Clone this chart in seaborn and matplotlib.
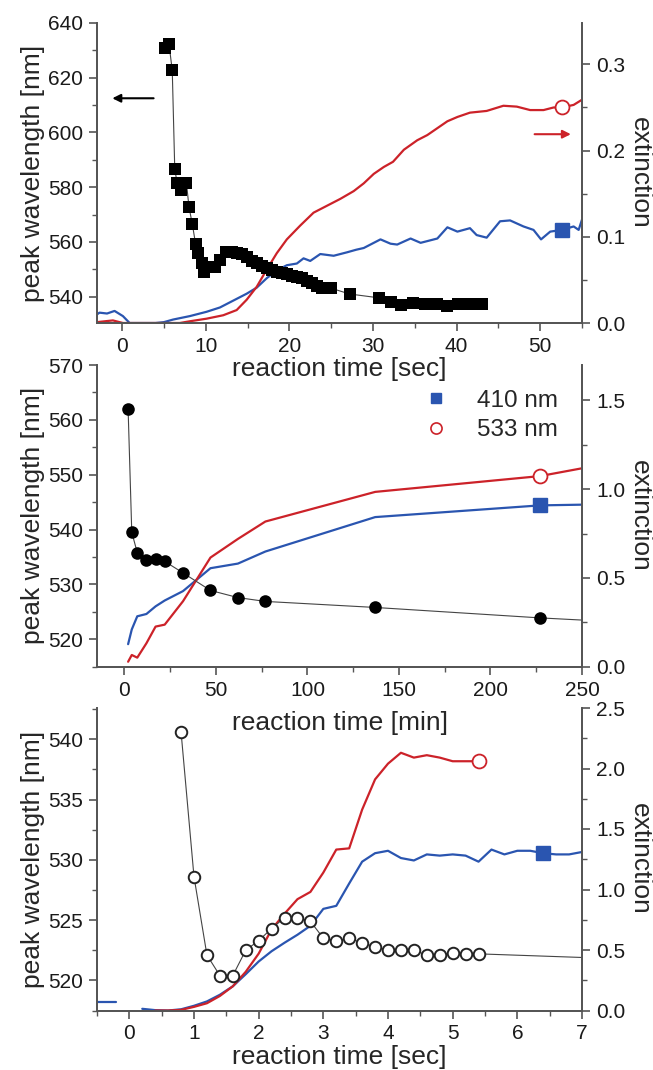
import numpy as np
import matplotlib
matplotlib.use("Agg")
import matplotlib.pyplot as plt
from matplotlib.lines import Line2D
import seaborn as sns

# ---- top panel: reaction time in sec ----
top_peak_t = [5.1, 5.6, 6.0, 6.3, 6.6, 7.0, 7.7, 8.0, 8.4, 8.8, 9.1, 9.5, 9.8, 10.5, 11.1,
              11.7, 12.4, 13.1, 13.7, 14.3, 14.9, 15.5, 16.1, 16.7, 17.3, 17.9, 18.5, 19.1,
              19.7, 20.3, 20.9, 21.5, 22.1, 22.7, 23.3, 23.9, 24.5, 25.0, 27.2, 30.7, 32.1,
              33.3, 34.8, 36.2, 37.6, 38.9, 40.2, 41.6, 43.0]
top_peak = [630.7, 632.5, 622.7, 586.5, 581.4, 579.0, 581.4, 572.8, 566.5, 559.1, 555.8,
            552.2, 549.1, 551.0, 551.0, 553.4, 556.4, 556.4, 556.0, 555.6, 554.6, 553.1,
            552.2, 551.2, 550.4, 549.7, 549.1, 548.8, 548.3, 547.7, 547.3, 546.7, 545.8,
            544.9, 544.0, 543.3, 543.1, 543.1, 541.0, 539.6, 538.0, 537.1, 537.8, 537.3,
            537.3, 536.7, 537.4, 537.3, 537.2]

top_blue_t = [-3.0, -2.7, -1.8, -0.9, 0.1, 0.9, 2.0, 3.0, 4.0, 5.0, 6.1, 8.1, 10.1, 11.7,
              13.3, 14.9, 16.1, 17.3, 18.5, 19.7, 20.9, 21.7, 22.5, 23.7, 25.3, 26.9, 28.0,
              28.9, 30.1, 30.9, 32.1, 32.9, 34.5, 35.7, 37.7, 38.9, 40.1, 41.6, 42.4, 43.6,
              45.2, 46.4, 48.0, 49.2, 50.1, 51.2, 52.6, 54.0, 54.6, 55.0]
top_blue = [0.010, 0.012, 0.011, 0.014, 0.008, 0.0, 0.0, 0.0, 0.0, 0.001, 0.004, 0.008,
            0.013, 0.018, 0.026, 0.034, 0.041, 0.052, 0.061, 0.067, 0.069, 0.075, 0.072,
            0.080, 0.078, 0.082, 0.085, 0.087, 0.093, 0.097, 0.092, 0.091, 0.098, 0.093,
            0.098, 0.111, 0.106, 0.110, 0.102, 0.099, 0.118, 0.119, 0.112, 0.108, 0.097,
            0.106, 0.108, 0.112, 0.108, 0.120]

top_red_t = [-3.0, -1.1, 0.1, 2.0, 4.0, 6.9, 8.1, 10.1, 12.1, 13.7, 14.9, 16.1, 17.3, 18.5,
             19.7, 21.3, 22.9, 24.5, 26.1, 27.7, 28.9, 30.1, 31.3, 32.4, 33.7, 35.3, 36.5,
             37.7, 38.9, 40.1, 41.6, 43.6, 45.6, 47.2, 48.8, 50.4, 51.6, 52.6, 54.0, 55.0]
top_red = [0.001, 0.003, 0.0, 0.0, 0.0, 0.0, 0.002, 0.005, 0.009, 0.015, 0.027, 0.042,
           0.062, 0.081, 0.097, 0.113, 0.128, 0.136, 0.144, 0.153, 0.162, 0.173, 0.181,
           0.187, 0.201, 0.212, 0.218, 0.226, 0.234, 0.239, 0.244, 0.246, 0.252, 0.251,
           0.247, 0.247, 0.250, 0.250, 0.253, 0.259]
top_mark_t = 52.6

# ---- middle panel: reaction time in min ----
mid_peak_t = [2, 4, 7, 12, 17, 22, 32, 47, 62, 77, 137, 227]
mid_peak = [561.9, 539.5, 535.8, 534.5, 534.7, 534.2, 532.1, 528.9, 527.6, 526.9, 525.8, 523.9]
mid_tail_t = [227, 250]
mid_tail = [523.9, 523.5]

mid_ext_t = [2, 4, 7, 12, 17, 22, 32, 47, 62, 77, 137, 227, 250]
mid_blue = [0.127, 0.21, 0.284, 0.297, 0.34, 0.373, 0.426, 0.555, 0.581, 0.649, 0.843, 0.909, 0.913]
mid_red = [0.028, 0.066, 0.051, 0.132, 0.226, 0.237, 0.369, 0.615, 0.720, 0.818, 0.985, 1.074, 1.118]
mid_mark_t = 227

# ---- bottom panel: reaction time in sec ----
bot_peak_t = [0.8, 1.0, 1.2, 1.4, 1.6, 1.8, 2.0, 2.2, 2.4, 2.6, 2.8, 3.0, 3.2, 3.4, 3.6,
              3.8, 4.0, 4.2, 4.4, 4.6, 4.8, 5.0, 5.2, 5.4]
bot_peak = [540.6, 528.6, 522.1, 520.4, 520.4, 522.5, 523.3, 524.3, 525.2, 525.2, 524.9,
            523.5, 523.3, 523.5, 523.1, 522.8, 522.5, 522.5, 522.5, 522.1, 522.1, 522.3,
            522.2, 522.2]
bot_tail_t = [5.4, 7.0]
bot_tail = [522.2, 521.9]

bot_pre_t = [-0.5, -0.2]
bot_pre_blue = [0.07, 0.07]
bot_blue_t = [0.2, 0.4, 0.6, 0.8, 1.0, 1.2, 1.4, 1.6, 1.8, 2.0, 2.2, 2.4, 2.6, 2.8, 3.0,
              3.2, 3.4, 3.6, 3.8, 4.0, 4.2, 4.4, 4.6, 4.8, 5.0, 5.2, 5.4, 5.6, 5.8, 6.0,
              6.2, 6.4, 6.6, 6.8, 7.0]
bot_blue = [0.014, 0.003, 0.0, 0.01, 0.039, 0.075, 0.13, 0.20, 0.30, 0.405, 0.49, 0.56,
            0.626, 0.70, 0.84, 0.865, 1.05, 1.23, 1.30, 1.32, 1.26, 1.24, 1.29, 1.28, 1.29,
            1.28, 1.23, 1.33, 1.29, 1.32, 1.32, 1.30, 1.29, 1.29, 1.31]
bot_red_t = [0.4, 0.6, 0.8, 1.0, 1.2, 1.4, 1.6, 1.8, 2.0, 2.2, 2.4, 2.6, 2.8, 3.0, 3.2,
             3.4, 3.6, 3.8, 4.0, 4.2, 4.4, 4.6, 4.8, 5.0, 5.2, 5.4]
bot_red = [0.0, 0.0, 0.005, 0.03, 0.06, 0.12, 0.20, 0.32, 0.47, 0.67, 0.80, 0.92, 0.98,
           1.14, 1.33, 1.34, 1.66, 1.91, 2.04, 2.13, 2.09, 2.11, 2.09, 2.06, 2.06, 2.06]
bot_red_mark_t = 5.4
bot_blue_mark_t = 6.4

BLUE = "#2a55b0"
RED = "#cc2229"
AX = "#555555"

sns.set_style("ticks")
plt.rcParams["font.family"] = ["Liberation Sans", "DejaVu Sans"]

fig = plt.figure(figsize=(6.53, 10.70), dpi=100)
L, W = 97 / 653, 485 / 653
ax1 = fig.add_axes([L, 1 - 323 / 1070, W, 300 / 1070])
ax2 = fig.add_axes([L, 1 - 666.7 / 1070, W, 301.7 / 1070])
ax3 = fig.add_axes([L, 1 - 1010.5 / 1070, W, 302.5 / 1070])


def style(ax, tw):
    for a in (ax, tw):
        a.spines["top"].set_visible(False)
        for s in ("left", "right", "bottom"):
            a.spines[s].set_color(AX)
            a.spines[s].set_linewidth(1.3)
        a.tick_params(which="major", direction="out", length=6, width=1.2, color=AX,
                      labelsize=15, labelcolor="#1a1a1a", pad=4)
        a.tick_params(which="minor", direction="out", length=3.5, width=1.0, color=AX)
    ax.set_ylabel("peak wavelength [nm]", fontsize=19, labelpad=2)
    tw.set_ylabel("extinction", fontsize=19, rotation=270, labelpad=19)
    ax.set_zorder(tw.get_zorder() + 1)
    ax.patch.set_visible(False)


def lines(tw, bt, b, rt, r):
    sns.lineplot(x=bt, y=b, ax=tw, color=BLUE, lw=1.6, sort=False, estimator=None)
    sns.lineplot(x=rt, y=r, ax=tw, color=RED, lw=1.6, sort=False, estimator=None)


def marks(tw, bt, b, rt, r):
    tw.plot([bt], [np.interp(bt, *b)], marker="s", ms=9.5, color=BLUE, ls="none")
    tw.plot([rt], [np.interp(rt, *r)], marker="o", ms=10, mfc="white", mec=RED,
            mew=1.3, ls="none")


# top
tw1 = ax1.twinx()
style(ax1, tw1)
lines(tw1, top_blue_t, top_blue, top_red_t, top_red)
marks(tw1, top_mark_t, (top_blue_t, top_blue), top_mark_t, (top_red_t, top_red))
sns.lineplot(x=top_peak_t, y=top_peak, ax=ax1, color="#444444", lw=0.8, sort=False,
             estimator=None)
sns.scatterplot(x=top_peak_t, y=top_peak, ax=ax1, marker="s", s=68, color="black",
                edgecolor="black", linewidth=0, zorder=3)
ax1.set_xlim(-3, 55)
ax1.set_ylim(530.4, 640)
tw1.set_ylim(0, 0.348)
ax1.set_xticks([0, 10, 20, 30, 40, 50])
ax1.set_xticks(np.arange(-0, 56, 5), minor=True)
ax1.set_yticks([540, 560, 580, 600, 620, 640])
ax1.set_yticks(np.arange(540, 641, 10), minor=True)
tw1.set_yticks([0.0, 0.1, 0.2, 0.3])
tw1.set_yticks(np.arange(0, 0.34, 0.05), minor=True)
tw1.set_yticklabels(["0.0", "0.1", "0.2", "0.3"])
ax1.set_xlabel("reaction time [sec]", fontsize=19, labelpad=1)
ax1.annotate("", xy=(-1.5, 612.5), xytext=(4.1, 612.5),
             arrowprops=dict(arrowstyle="-|>", color="black", lw=1.5, mutation_scale=12))
tw1.annotate("", xy=(54.0, 0.219), xytext=(49.0, 0.219),
             arrowprops=dict(arrowstyle="-|>", color=RED, lw=1.5, mutation_scale=12))

# middle
tw2 = ax2.twinx()
style(ax2, tw2)
lines(tw2, mid_ext_t, mid_blue, mid_ext_t, mid_red)
marks(tw2, mid_mark_t, (mid_ext_t, mid_blue), mid_mark_t, (mid_ext_t, mid_red))
sns.lineplot(x=mid_peak_t + mid_tail_t[1:], y=mid_peak + mid_tail[1:], ax=ax2,
             color="#444444", lw=0.8, sort=False, estimator=None)
sns.scatterplot(x=mid_peak_t, y=mid_peak, ax=ax2, marker="o", s=82, color="black",
                edgecolor="black", linewidth=0, zorder=3)
ax2.set_xlim(-15, 250)
ax2.set_ylim(515, 570)
tw2.set_ylim(0, 1.7)
ax2.set_xticks([0, 50, 100, 150, 200, 250])
ax2.set_xticks(np.arange(0, 251, 25), minor=True)
ax2.set_yticks([520, 530, 540, 550, 560, 570])
ax2.set_yticks(np.arange(515, 571, 5), minor=True)
tw2.set_yticks([0.0, 0.5, 1.0, 1.5])
tw2.set_yticks(np.arange(0, 1.7, 0.25), minor=True)
ax2.set_xlabel("reaction time [min]", fontsize=19, labelpad=8)
handles = [Line2D([], [], marker="s", color=BLUE, ls="none", ms=7),
           Line2D([], [], marker="o", mfc="white", mec=RED, mew=1.2, ls="none", ms=8)]
ax2.legend(handles, ["410 nm", "533 nm"], loc="upper left", bbox_to_anchor=(0.628, 0.99),
           frameon=False, fontsize=17.5, handletextpad=1.2, labelspacing=0.3,
           handlelength=1.0)

# bottom
tw3 = ax3.twinx()
style(ax3, tw3)
sns.lineplot(x=bot_pre_t, y=bot_pre_blue, ax=tw3, color=BLUE, lw=1.6, sort=False,
             estimator=None)
lines(tw3, bot_blue_t, bot_blue, bot_red_t, bot_red)
marks(tw3, bot_blue_mark_t, (bot_blue_t, bot_blue), bot_red_mark_t, (bot_red_t, bot_red))
sns.lineplot(x=bot_peak_t + bot_tail_t[1:], y=bot_peak + bot_tail[1:], ax=ax3,
             color="#444444", lw=0.8, sort=False, estimator=None)
ax3.plot(bot_peak_t, bot_peak, ls="none", marker="o", ms=8.3, mfc="white", mec="#222222",
         mew=1.4, zorder=3)
ax3.set_xlim(-0.5, 7)
ax3.set_ylim(517.5, 542.6)
tw3.set_ylim(0, 2.5)
ax3.set_xticks(range(0, 8))
ax3.set_xticks(np.arange(-0.5, 7.01, 0.5), minor=True)
ax3.set_yticks([520, 525, 530, 535, 540])
ax3.set_yticks(np.arange(517.5, 542.6, 2.5), minor=True)
tw3.set_yticks([0.0, 0.5, 1.0, 1.5, 2.0, 2.5])
tw3.set_yticks(np.arange(0, 2.51, 0.25), minor=True)
ax3.set_xlabel("reaction time [sec]", fontsize=19, labelpad=1)

fig.savefig("out.png", dpi=100)
